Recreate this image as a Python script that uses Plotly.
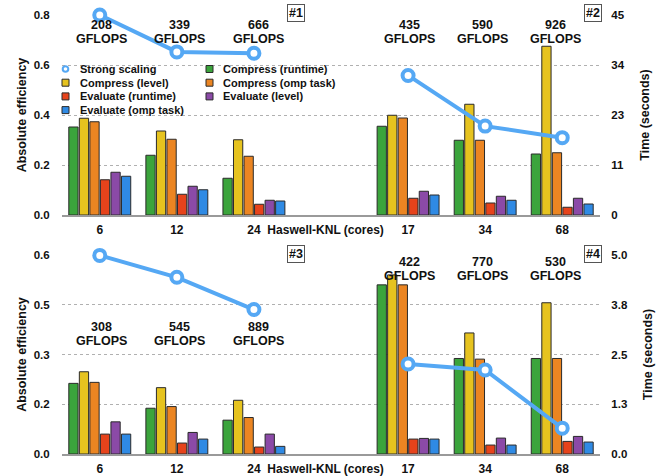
import plotly.graph_objects as go
from plotly.subplots import make_subplots

# ---------------- data ----------------
core_labels = ["6", "12", "24", "17", "34", "68"]
axis_label = "Haswell-KNL (cores)"
series_names = ["Compress (runtime)", "Compress (level)", "Compress (omp task)",
                "Evaluate (runtime)", "Evaluate (level)", "Evaluate (omp task)"]
line_name = "Strong scaling"
panel_tags = ["#1", "#2", "#3", "#4"]

# top panel (#1 Haswell, #2 KNL): absolute efficiency
top_compress_runtime = [0.352, 0.239, 0.147, 0.355, 0.299, 0.244]
top_compress_level = [0.387, 0.336, 0.301, 0.399, 0.443, 0.675]
top_compress_omp = [0.373, 0.303, 0.235, 0.388, 0.299, 0.249]
top_evaluate_runtime = [0.141, 0.083, 0.043, 0.067, 0.048, 0.031]
top_evaluate_level = [0.171, 0.115, 0.059, 0.095, 0.075, 0.067]
top_evaluate_omp = [0.155, 0.101, 0.056, 0.080, 0.059, 0.044]
top_time = [45.0, 36.7, 36.4, 31.4, 20.0, 17.4]
top_gflops = [208, 339, 666, 435, 590, 926]

# bottom panel (#3 Haswell, #4 KNL)
bot_compress_runtime = [0.213, 0.138, 0.102, 0.510, 0.288, 0.288]
bot_compress_level = [0.248, 0.200, 0.162, 0.540, 0.365, 0.456]
bot_compress_omp = [0.216, 0.143, 0.110, 0.510, 0.286, 0.288]
bot_evaluate_runtime = [0.060, 0.033, 0.021, 0.045, 0.027, 0.038]
bot_evaluate_level = [0.097, 0.065, 0.060, 0.047, 0.048, 0.053]
bot_evaluate_omp = [0.060, 0.045, 0.023, 0.045, 0.027, 0.036]
bot_time = [4.99, 4.44, 3.63, 2.26, 2.11, 0.65]
bot_gflops = [308, 545, 889, 422, 770, 530]

top_eff_ticks = ["0.0", "0.2", "0.4", "0.6", "0.8"]
top_time_ticks = ["0", "11", "23", "34", "45"]
bot_eff_ticks = ["0.0", "0.2", "0.3", "0.5", "0.6"]
bot_time_ticks = ["0.0", "1.3", "2.5", "3.8", "5.0"]

# ---------------- style ----------------
FONT = "Liberation Sans, Arial, Helvetica, sans-serif"
TXT = "#111111"
colors = ["#3ba43c", "#e6c31f", "#eb8522", "#e6431b", "#8b4aa7", "#2f8ae4"]
LINE = "#55a8f4"
W, H = 657, 476
ML, MR, MT, MB = 62, 57, 15, 22
PW = W - ML - MR
PH = H - MT - MB


def px_x(px):
    return (px - ML) / PW


def px_y(py):
    return (H - MB - py) / PH


top_dom = [px_y(215), 1.0]
bot_dom = [0.0, px_y(255)]

positions = [i if i < 3 else i + 1 for i in range(len(core_labels))]

fig = make_subplots(rows=2, cols=1, specs=[[{"secondary_y": True}], [{"secondary_y": True}]])

panels = [
    (1, [top_compress_runtime, top_compress_level, top_compress_omp,
         top_evaluate_runtime, top_evaluate_level, top_evaluate_omp], top_time),
    (2, [bot_compress_runtime, bot_compress_level, bot_compress_omp,
         bot_evaluate_runtime, bot_evaluate_level, bot_evaluate_omp], bot_time),
]

for row, series, times in panels:
    for name, vals, col in zip(series_names, series, colors):
        fig.add_trace(go.Bar(x=positions, y=vals, name=name, showlegend=False,
                             marker=dict(color=col, line=dict(color="#2a2a2a", width=1))),
                      row=row, col=1, secondary_y=False)
    lx = positions[:3] + [None] + positions[3:]
    ly = times[:3] + [None] + times[3:]
    fig.add_trace(go.Scatter(x=lx, y=ly, mode="lines+markers", name=line_name, showlegend=False,
                             connectgaps=False, cliponaxis=False,
                             line=dict(color=LINE, width=4),
                             marker=dict(symbol="circle", size=11, color="white",
                                         line=dict(color=LINE, width=4))),
                  row=row, col=1, secondary_y=True)

tickvals_x = positions[:3] + [2.93] + positions[3:]
ticktext_x = core_labels[:3] + [axis_label] + core_labels[3:]
xcommon = dict(range=[-0.49, 6.49], tickmode="array", tickvals=tickvals_x, ticktext=ticktext_x,
               tickangle=0, automargin=False,
               showgrid=False, zeroline=False, showline=True, linecolor="#9a9a9a", linewidth=2,
               ticks="outside", ticklen=3, tickcolor="rgba(0,0,0,0)",
               tickfont=dict(family=FONT, size=12, color=TXT, weight="bold"), domain=[0, 1])
fig.update_layout(xaxis=xcommon, xaxis2=xcommon)

ycommon = dict(showgrid=True, griddash="dot", gridcolor="#b0b0b0", gridwidth=1, zeroline=False,
               showline=False, ticks="outside", ticklen=9, tickcolor="rgba(0,0,0,0)",
               automargin=False,
               tickfont=dict(family=FONT, size=11.5, color=TXT, weight="bold"),
               title=dict(text="Absolute efficiency", standoff=4,
                          font=dict(family=FONT, size=12.5, color=TXT, weight="bold")))
y2common = dict(showgrid=False, zeroline=False, showline=False, ticks="outside", ticklen=8,
                tickcolor="rgba(0,0,0,0)", automargin=False,
                tickfont=dict(family=FONT, size=11.5, color=TXT, weight="bold"),
                title=dict(text="Time (seconds)", standoff=16,
                           font=dict(family=FONT, size=12.5, color=TXT, weight="bold")))

fig.update_layout(
    yaxis=dict(ycommon, domain=top_dom, range=[0, 0.8], tickmode="array",
               tickvals=[0, 0.2, 0.4, 0.6, 0.8], ticktext=top_eff_ticks),
    yaxis2=dict(y2common, range=[0, 45], tickmode="array",
                tickvals=[0, 11.25, 22.5, 33.75, 45], ticktext=top_time_ticks),
    yaxis3=dict(ycommon, domain=bot_dom, range=[0, 0.6], tickmode="array",
                tickvals=[0, 0.15, 0.3, 0.45, 0.6], ticktext=bot_eff_ticks),
    yaxis4=dict(y2common, range=[0, 5], tickmode="array",
                tickvals=[0, 1.25, 2.5, 3.75, 5], ticktext=bot_time_ticks),
)

annotations = []
shapes = []

# GFLOPS labels
label_xshift = [2, 3, 5, 1, -3, -7]
label_rows = {1: ([24.5, 39.0], [24.5, 39.0]), 2: ([327.0, 341.0], [261.5, 276.0])}
for row, gfl in [(1, top_gflops), (2, bot_gflops)]:
    xref = "x" if row == 1 else "x2"
    for i, g in enumerate(gfl):
        ys = label_rows[row][0] if i < 3 else label_rows[row][1]
        for txt, yy in zip([str(g), "GFLOPS"], ys):
            annotations.append(dict(x=positions[i], xref=xref, y=px_y(yy), yref="paper",
                                    text=txt, showarrow=False, xanchor="center", yanchor="middle",
                                    xshift=label_xshift[i],
                                    font=dict(family=FONT, size=12.5, color=TXT, weight="bold")))

# panel tags (#1..#4)
tag_pos = [(296, 13.5), (592.5, 13.5), (296, 254), (593, 254)]
for tag, (tx, ty) in zip(panel_tags, tag_pos):
    annotations.append(dict(x=px_x(tx), xref="paper", y=px_y(ty), yref="paper", text=tag,
                            showarrow=False, xanchor="center", yanchor="middle",
                            bgcolor="white", bordercolor="#555555", borderwidth=1, borderpad=1,
                            font=dict(family=FONT, size=12.5, color=TXT, weight="bold")))

# legend (drawn manually, two columns)
legend_names = [line_name] + series_names
col_sym = [65.5, 209.5]
col_txt = [78, 221]
for k, name in enumerate(legend_names):
    r, c = divmod(k, 2)
    cy = 69 + 13.7 * r
    sx = col_sym[c]
    if k == 0:
        shapes.append(dict(type="circle", xref="paper", yref="paper",
                           x0=px_x(sx - 2.8), x1=px_x(sx + 2.8), y0=px_y(cy + 2.8), y1=px_y(cy - 2.8),
                           line=dict(color=LINE, width=2), fillcolor="white"))
    else:
        shapes.append(dict(type="rect", xref="paper", yref="paper",
                           x0=px_x(sx - 3.5), x1=px_x(sx + 3.5), y0=px_y(cy + 3.5), y1=px_y(cy - 3.5),
                           line=dict(color="#2a2a2a", width=1), fillcolor=colors[k - 1]))
    annotations.append(dict(x=px_x(col_txt[c]), xref="paper", y=px_y(cy), yref="paper", text=name,
                            showarrow=False, xanchor="left", yanchor="middle",
                            font=dict(family=FONT, size=11, color=TXT, weight="bold")))

fig.update_layout(
    width=W, height=H,
    margin=dict(l=ML, r=MR, t=MT, b=MB, pad=0, autoexpand=False),
    paper_bgcolor="white", plot_bgcolor="white",
    barmode="group", bargap=0.18, bargroupgap=0.12,
    showlegend=False,
    font=dict(family=FONT, color=TXT),
    annotations=annotations, shapes=shapes,
)

fig.write_html("out.html", config={"displayModeBar": False},
               post_script="document.body.style.margin='0';")
